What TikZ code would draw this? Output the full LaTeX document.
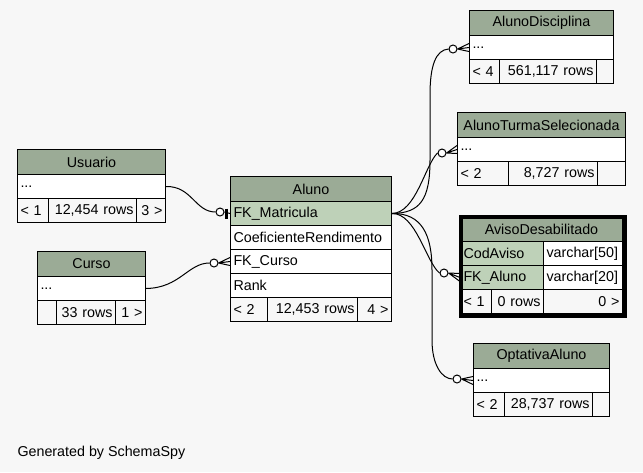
\documentclass[tikz,border=0pt]{standalone}
\usepackage{fontspec}
\setmainfont{Liberation Sans}
\definecolor{hdrgreen}{HTML}{9BAB96}
\definecolor{keygreen}{HTML}{BED1B8}
\definecolor{bggray}{HTML}{F7F7F7}

\begin{document}
\begin{tikzpicture}
  [x=1pt,y=-1pt,line width=1pt,
   every node/.style={font=\fontsize{14.3}{16}\selectfont,inner sep=0pt},
   hd/.style={draw,fill=hdrgreen,anchor=north west,minimum height=25pt,align=center,inner xsep=3pt},
   rw/.style={draw,fill=white,anchor=north west,minimum height=24pt,align=left,inner xsep=3pt},
   ky/.style={rw,fill=keygreen},
   ft/.style={rw,fill=bggray},
   ftr/.style={ft,align=right},
   odot/.style={circle,draw,fill=white,minimum size=8pt}]
  \fill[bggray] (0,0) rectangle (643,472);
  \useasboundingbox (0,0) rectangle (643,472);

  % Usuario
  \node[hd,text width=142pt] (usrh) at (17,149) {Usuario};
  \node[rw,text width=142pt] (usrr) at (17,174) {...};
  \node[ft,text width=25pt] (usrf1) at (17,198) {< 1};
  \node[ftr,text width=82pt] (usrf2) at (48,198) {12,454 rows};
  \node[ftr,text width=23pt] (usrf3) at (136,198) {3 >};

  % Curso
  \node[hd,text width=102pt] (curh) at (37,251) {Curso};
  \node[rw,text width=102pt] (curr) at (37,276) {...};
  \node[ft,text width=13pt] (curf1) at (37,300) {};
  \node[ftr,text width=53pt] (curf2) at (56,300) {33 rows};
  \node[ftr,text width=24pt] (curf3) at (115,300) {1 >};

  % Aluno
  \node[hd,text width=155pt] (aluh) at (230,176) {Aluno};
  \node[ky,text width=155pt] (alumat) at (230,201) {FK\_Matricula};
  \node[rw,text width=155pt] (alucoef) at (230,225) {CoeficienteRendimento};
  \node[rw,text width=155pt] (alucur) at (230,249) {FK\_Curso};
  \node[rw,text width=155pt] (alurank) at (230,273) {Rank};
  \node[ft,text width=31pt] (aluf1) at (230,297) {< 2};
  \node[ftr,text width=84pt] (aluf2) at (267,297) {12,453 rows};
  \node[ftr,text width=28pt] (aluf3) at (357,297) {4 >};

  % AlunoDisciplina
  \node[hd,text width=138pt] (adih) at (469,10) {AlunoDisciplina};
  \node[rw,text width=138pt] (adir) at (469,35) {...};
  \node[ft,text width=24pt] (adif1) at (469,59) {< 4};
  \node[ftr,text width=91pt] (adif2) at (499,59) {561,117 rows};
  \node[ftr,text width=11pt] (adif3) at (596,59) {};

  % AlunoTurmaSelecionada
  \node[hd,text width=162pt] (atsh) at (457,112) {AlunoTurmaSelecionada};
  \node[rw,text width=162pt] (atsr) at (457,137) {...};
  \node[ft,text width=45pt] (atsf1) at (457,161) {< 2};
  \node[ftr,text width=83pt] (atsf2) at (508,161) {8,727 rows};
  \node[ftr,text width=22pt] (atsf3) at (597,161) {};

  % AvisoDesabilitado
  \node[hd,text width=156pt] (avih) at (460,216) {AvisoDesabilitado};
  \node[ky,text width=77pt] (avicod) at (460,241) {CodAviso};
  \node[rw,text width=73pt] (avicodt) at (543,241) {varchar[50]};
  \node[ky,text width=77pt] (avifk) at (460,265) {FK\_Aluno};
  \node[rw,text width=73pt] (avifkt) at (543,265) {varchar[20]};
  \node[ft,text width=25pt] (avif1) at (460,289) {< 1};
  \node[ftr,text width=46pt] (avif2) at (491,289) {0 rows};
  \node[ftr,text width=73pt] (avif3) at (543,289) {0 >};
  \node[draw,line width=4pt,anchor=north west,minimum width=164pt,minimum height=99pt] (avibox) at (459,215) {};

  % OptativaAluno
  \node[hd,text width=130pt] (opth) at (473,343) {OptativaAluno};
  \node[rw,text width=130pt] (optr) at (473,368) {...};
  \node[ft,text width=25pt] (optf1) at (473,392) {< 2};
  \node[ftr,text width=82pt] (optf2) at (504,392) {28,737 rows};
  \node[ftr,text width=11pt] (optf3) at (592,392) {};

  % relationship ends
  \node[odot] (m1) at (220,212) {};
  \node[odot] (m2) at (214,263) {};
  \node[odot] (m3) at (453,49) {};
  \node[odot] (m4) at (442,153) {};
  \node[odot] (m5) at (444,273) {};
  \node[odot] (m6) at (457,379) {};

  \draw (usrr.east) .. controls (192,186) and (195,212) .. (m1.west);
  \draw (curr.east) .. controls (180,288) and (188,263) .. (m2.west);
  \draw (alumat.east) .. controls (420,213) and (430,200) .. (430,160)
    -- (430,95) .. controls (430,65) and (436,50) .. (m3.west);
  \draw (alumat.east) .. controls (416,213) and (425,165) .. (m4.west);
  \draw (alumat.east) .. controls (416,213) and (426,262) .. (m5.west);
  \draw (alumat.east) .. controls (422,213) and (432,235) .. (432,270)
    -- (432,340) .. controls (432,365) and (442,379) .. (m6.west);

  \draw (m1.east) -- (alumat.west);
  \draw[line width=2.5pt] ([xshift=-3.5pt,yshift=5pt]alumat.west) -- ([xshift=-3.5pt,yshift=-5pt]alumat.west);
  \foreach \m/\t in {m2/alucur,m3/adir,m4/atsr,m5/avifk,m6/optr}
    \draw (\m.east) -- (\t.west) (\m.east) -- ([yshift=4pt]\t.west) (\m.east) -- ([yshift=-4pt]\t.west);

  \node[anchor=base west] (gen) at (17,456) {Generated by SchemaSpy};
\end{tikzpicture}
\end{document}
